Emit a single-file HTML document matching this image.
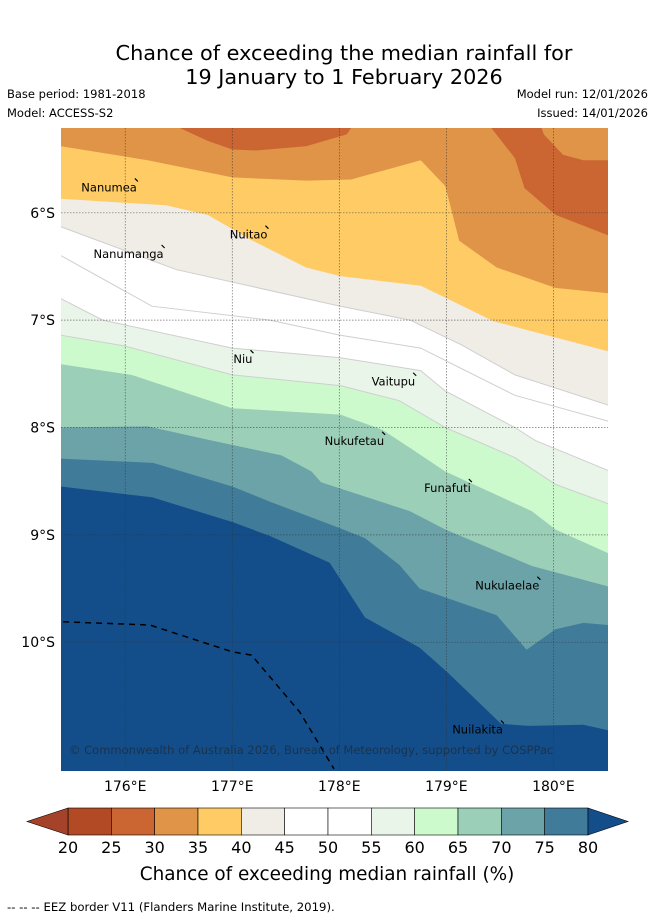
<!DOCTYPE html>
<html><head><meta charset="utf-8">
<style>
body{margin:0;background:#fff;width:655px;height:919px;overflow:hidden;font-family:"Liberation Sans","DejaVu Sans",sans-serif;}
svg{display:block}
</style></head>
<body>
<svg id="chart" width="655" height="919" xmlns="http://www.w3.org/2000/svg">
<text x="344" y="60" font-size="20.8" text-anchor="middle" font-family="DejaVu Sans, sans-serif">Chance of exceeding the median rainfall for</text>
<text x="344" y="84" font-size="20.8" text-anchor="middle" font-family="DejaVu Sans, sans-serif">19 January to 1 February 2026</text>
<text x="7" y="98" font-size="11.5" font-family="DejaVu Sans, sans-serif">Base period: 1981-2018</text>
<text x="7" y="117" font-size="11.5" font-family="DejaVu Sans, sans-serif">Model: ACCESS-S2</text>
<text x="648" y="98" font-size="11.5" text-anchor="end" font-family="DejaVu Sans, sans-serif">Model run: 12/01/2026</text>
<text x="648" y="117" font-size="11.5" text-anchor="end" font-family="DejaVu Sans, sans-serif">Issued: 14/01/2026</text>
<g id="map"></g>
<g id="cbar"></g>
<text x="327" y="880" font-size="18.4" text-anchor="middle" font-family="DejaVu Sans, sans-serif">Chance of exceeding median rainfall (%)</text>
<text x="7" y="911" font-size="11.7" font-family="DejaVu Sans, sans-serif">-- -- -- EEZ border V11 (Flanders Marine Institute, 2019).</text>
</svg>
<script>
const lonTicks=[176,177,178,179,180];
const latTicks=[6,7,8,9,10];
const levels=[20,25,30,35,40,45,50,55,60,65,70,75,80];
const bandColors=["#b34a26","#cb6633","#e09448","#fecb65","#f0ece6","#ffffff","#ffffff","#e9f5e9","#ccfacc","#9bcfb8","#6ca3a8","#417b9a"];
const c80=[[175.40,8.55],[176.25,8.65],[177.00,8.88],[177.35,9.01],[177.91,9.26],[178.24,9.77],[178.75,10.05],[179.01,10.28],[179.51,10.76],[179.77,10.78],[180.28,10.77],[180.51,10.82]];
const c75=[[175.40,8.29],[176.26,8.33],[177.00,8.55],[177.35,8.69],[178.01,8.94],[178.24,9.03],[178.56,9.28],[178.75,9.50],[179.47,9.75],[179.75,10.07],[180.02,9.88],[180.28,9.82],[180.51,9.84]];
const c70=[[175.40,8.00],[176.21,7.99],[176.80,8.12],[177.46,8.26],[177.74,8.41],[177.83,8.51],[178.66,8.78],[178.99,8.95],[179.80,9.29],[180.51,9.48]];
const c65=[[175.40,7.41],[176.06,7.51],[177.00,7.82],[178.01,7.88],[178.40,8.02],[178.66,8.19],[178.99,8.41],[179.80,8.78],[180.02,8.95],[180.51,9.17]];
const c60=[[175.40,7.14],[175.99,7.24],[177.00,7.51],[178.01,7.61],[178.56,7.75],[178.99,8.00],[179.64,8.28],[180.02,8.53],[180.51,8.71]];
const c55=[[175.40,6.80],[175.79,7.00],[177.00,7.26],[178.01,7.35],[178.76,7.47],[178.99,7.66],[179.64,8.00],[179.83,8.12],[180.51,8.40]];
const c50=[[175.40,6.40],[176.25,6.87],[177.35,7.00],[178.01,7.14],[178.76,7.26],[179.14,7.45],[179.64,7.70],[180.51,7.94]];
const c45=[[175.40,6.13],[176.48,6.53],[178.01,6.87],[178.66,7.00],[179.14,7.23],[179.64,7.51],[180.51,7.79]];
const c40=[[175.40,5.87],[176.38,5.93],[176.77,6.02],[177.19,6.26],[177.69,6.51],[178.01,6.59],[178.76,6.68],[178.99,6.79],[179.44,7.01],[180.51,7.29]];
const c35=[[175.40,5.38],[176.21,5.51],[177.00,5.67],[177.69,5.70],[178.11,5.69],[178.76,5.51],[178.99,5.75],[179.12,6.26],[179.47,6.51],[180.02,6.70],[180.51,6.75]];
const c30top=[[176.51,5.21],[176.77,5.33],[177.00,5.41],[177.22,5.42],[177.69,5.38],[178.07,5.27],[178.11,5.21]];
const c30right=[[179.42,5.21],[179.64,5.49],[179.73,5.77],[180.02,6.02],[180.51,6.21],[180.51,5.51],[180.28,5.51],[180.09,5.46],[179.91,5.27],[179.89,5.21]];
const eez=[[175.42,9.81],[176.23,9.84],[177.00,10.09],[177.18,10.12],[177.63,10.65],[177.95,11.18]];
const islandNames=["Nanumea","Nuitao","Nanumanga","Niu","Vaitupu","Nukufetau","Funafuti","Nukulaelae","Nuilakita"];
const islandLon=[176.09,177.31,176.34,177.17,178.69,178.40,179.21,179.85,179.51];
const islandLat=[5.68,6.12,6.30,7.28,7.49,8.04,8.48,9.39,10.73];

const NS="http://www.w3.org/2000/svg";
const X0=61,X1=608,Y0=128,Y1=771;
const LON0=175.40,LON1=180.51,LAT0=5.21,LAT1=11.20;
function sx(lon){return X0+(lon-LON0)/(LON1-LON0)*(X1-X0);}
function sy(lat){return Y0+(lat-LAT0)/(LAT1-LAT0)*(Y1-Y0);}
function mk(tag,attrs,parent){const e=document.createElementNS(NS,tag);for(const k in attrs)e.setAttribute(k,attrs[k]);parent.appendChild(e);return e;}
const map=document.getElementById('map');
const cp=mk('clipPath',{id:'mclip'},map);mk('rect',{x:X0,y:Y0,width:X1-X0,height:Y1-Y0},cp);
const g=mk('g',{'clip-path':'url(#mclip)'},map);
let bg=mk('rect',{x:X0,y:Y0,width:X1-X0,height:Y1-Y0,fill:'#134e8a'},g);


function pts(a){return a.map(p=>sx(p[0]).toFixed(1)+','+sy(p[1]).toFixed(1)).join(' ');}
const lines=[[c80,11,'band-75-80'],[c75,10,'band-70-75'],[c70,9,'band-65-70'],[c65,8,'band-60-65'],[c60,7,'band-55-60'],[c55,6,'band-50-55'],[c50,5,'band-45-50'],[c45,4,'band-40-45'],[c40,3,'band-35-40'],[c35,2,'band-30-35']];
lines.forEach(([arr,ci,name])=>{
  const poly=arr.concat([[LON1+0.1,LAT0-0.1],[LON0-0.1,LAT0-0.1]]);
  const p=mk('polygon',{points:pts(poly),fill:bandColors[ci]},g);
  
  
  if(ci>=4&&ci<=7){const l=mk('polyline',{points:pts(arr),fill:'none',stroke:'#cfcfcf','stroke-width':1},g);
    
    }
});
[c30top,c30right].forEach(arr=>{
  const p=mk('polygon',{points:pts(arr),fill:bandColors[1]},g);
  
  
});
lonTicks.forEach(v=>{
  const l=mk('line',{x1:sx(v),x2:sx(v),y1:Y0,y2:Y1,stroke:'#333','stroke-width':0.7,'stroke-dasharray':'1.5,1.5','stroke-opacity':0.7},g);
  
  
  const t=mk('text',{x:sx(v),y:Y1+20,'font-size':14,'text-anchor':'middle','font-family':'DejaVu Sans, sans-serif'},map);
  t.textContent=v+'°E';
  
  
});
latTicks.forEach(v=>{
  const l=mk('line',{x1:X0,x2:X1,y1:sy(v),y2:sy(v),stroke:'#333','stroke-width':0.7,'stroke-dasharray':'1.5,1.5','stroke-opacity':0.7},g);
  
  
  const t=mk('text',{x:X0-6,y:sy(v)+5,'font-size':14,'text-anchor':'end','font-family':'DejaVu Sans, sans-serif'},map);
  t.textContent=v+'°S';
  
  
});
const ez=mk('polyline',{points:pts(eez),fill:'none',stroke:'#000','stroke-width':1.5,'stroke-dasharray':'6,5'},g);


islandNames.forEach((n,i)=>{
  const x=sx(islandLon[i]),y=sy(islandLat[i]);
  const m=mk('line',{x1:x,y1:y,x2:x+3,y2:y+3,stroke:'#000','stroke-width':1.2},g);
  
  
  const t=mk('text',{x:x+2,y:y+13,'font-size':11.5,'text-anchor':'end','font-family':'DejaVu Sans, sans-serif'},g);
  t.textContent=n;
  
  
});
const cr=mk('text',{x:69,y:754,'font-size':11.5,fill:'#1c2a3a','fill-opacity':0.75,'font-family':'DejaVu Sans, sans-serif'},g);
cr.textContent='© Commonwealth of Australia 2026, Bureau of Meteorology, supported by COSPPac';


const cb=document.getElementById('cbar');
const CB0=68,CB1=588,CBY=808,CBH=27;
const w=(CB1-CB0)/bandColors.length;
bandColors.forEach((c,i)=>{
  const r=mk('rect',{x:CB0+i*w,y:CBY,width:w,height:CBH,fill:c,stroke:'#000','stroke-width':0.6},cb);
  
  
});
const lt=mk('polygon',{points:`${CB0},${CBY} 27,${CBY+CBH/2} ${CB0},${CBY+CBH}`,fill:'#a5432a',stroke:'#000','stroke-width':0.6},cb);


const rt=mk('polygon',{points:`${CB1},${CBY} 628,${CBY+CBH/2} ${CB1},${CBY+CBH}`,fill:'#134e8a',stroke:'#000','stroke-width':0.6},cb);


levels.forEach((v,i)=>{
  const t=mk('text',{x:CB0+i*w,y:853,'font-size':16,'text-anchor':'middle','font-family':'DejaVu Sans, sans-serif'},cb);
  t.textContent=v;
  
  
});
</script>
</body></html>
